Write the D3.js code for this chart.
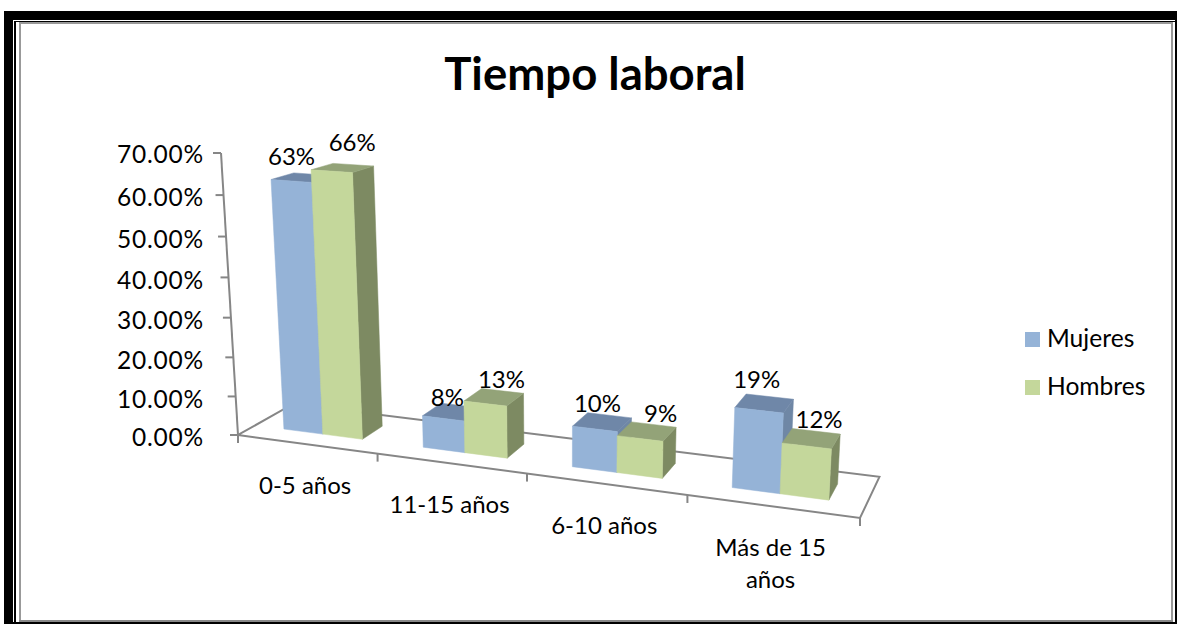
<!DOCTYPE html>
<html><head><meta charset="utf-8">
<script src="https://cdn.jsdelivr.net/npm/d3@7"></script>
<style>html,body{margin:0;padding:0;background:#fff}svg{display:block}text{font-family:Lato,"Noto Sans",sans-serif;fill:#000}</style>
</head><body><svg id="c" width="1177" height="624"></svg>
<script>
const title = "Tiempo laboral";
const categories = ["0-5 años","11-15 años","6-10 años","Más de 15 años"];
const seriesNames = ["Mujeres","Hombres"];
const mujeres = [0.63,0.08,0.10,0.19];
const hombres = [0.66,0.13,0.09,0.12];
const valueTicks = [0,0.1,0.2,0.3,0.4,0.5,0.6,0.7];
const seriesValues = [mujeres,hombres];

const front = {Mujeres:"#95B3D7",Hombres:"#C4D79B"};
const top_  = {Mujeres:"#6F87A8",Hombres:"#93A378"};
const side  = {Mujeres:"#6F87A5",Hombres:"#7D8A62"};
const axisColor = "#868686";

const svg = d3.select("#c");
// page frame
function box(x,y,w,h,f){svg.append("rect").attr("x",x).attr("y",y).attr("width",w).attr("height",h).attr("fill",f);}
box(4,11,1173,613,"#000");
box(13,20,1162,602,"#fff");
box(14,21,1161,601,"#000");
box(16,22,1159,600,"#fff");
box(19,22,1154,600,"#999");
box(21,24,1150,596,"#fff");
box(19,620,1154,2,"#888");

// projection of the 3-D chart box: unit cube -> screen
const P0=[238,435],P1=[860,518],P3=[293,404],PV=[221,153];
const g=-0.132, i_=0.065, h=-0.05;
const ax=P1[0]*(1+g)-P0[0], ay=P1[1]*(1+g)-P0[1];
const cx=P3[0]*(1+i_)-P0[0], cy=P3[1]*(1+i_)-P0[1];
const bx=PV[0]*(1+h)-P0[0], by=PV[1]*(1+h)-P0[1];
function project(u,v,d){
  const w=g*u+h*v+i_*d+1;
  return [(ax*u+bx*v+cx*d+P0[0])/w,(ay*u+by*v+cy*d+P0[1])/w];
}

const xBand=d3.scaleBand(categories,[0,1]);
const xSeries=d3.scaleBand(seriesNames,[0,xBand.bandwidth()]).paddingInner(0).paddingOuter(0.75);
const zBand=d3.scaleBand(["z"],[0,1]).paddingOuter(0.75);
const yScale=d3.scaleLinear([0,0.7],[0,1]);
const line=d3.line();

// floor
const floor=svg.append("g").attr("fill","none").attr("stroke",axisColor).attr("stroke-width",2);
floor.append("path").attr("d",line([project(0,0,0),project(1,0,0),project(1,0,1),project(0,0,1)])+"Z");
// category tick marks
xBand.domain().concat(["end"]).forEach((c,k)=>{
  const p=project(k*xBand.step(),0,0);
  floor.append("path").attr("d",line([p,[p[0],p[1]+8]]));
});
// value axis
floor.append("path").attr("d",line([project(0,yScale(0),0),project(0,yScale(0.7),0)]));
valueTicks.forEach(t=>{
  const p=project(0,yScale(t),0);
  floor.append("path").attr("d",line([p,[p[0]-8,p[1]]]));
  svg.append("text").attr("x",204).attr("y",p[1]+ (t===0.7?1:2.5)).attr("dy","0.36em")
     .attr("text-anchor","end").attr("font-size",24.5).attr("letter-spacing",0.8).text(d3.format(".2%")(t));
});

// bars
const z0=zBand("z"), z1=z0+zBand.bandwidth();
const labelNudge=[[[-2,-4],[19,-8]],[[6,6],[19,2]],[[8,2],[27,3]],[[7,-3],[23,2]]];
categories.forEach((c,ci)=>{
  seriesNames.forEach((s,si)=>{
    const val=seriesValues[si][ci];
    const u0=xBand(c)+xSeries(s), u1=u0+xSeries.bandwidth();
    const v=yScale(val);
    const g_=svg.append("g");
    const poly=(pts,f)=>g_.append("path").attr("d",line(pts)+"Z").attr("fill",f).attr("stroke",f).attr("stroke-width",0.5);
    poly([project(u1,0,z0),project(u1,0,z1),project(u1,v,z1),project(u1,v,z0)],side[s]);
    poly([project(u0,v,z0),project(u1,v,z0),project(u1,v,z1),project(u0,v,z1)],top_[s]);
    poly([project(u0,0,z0),project(u1,0,z0),project(u1,v,z0),project(u0,v,z0)],front[s]);
  });
});
categories.forEach((c,ci)=>{
  seriesNames.forEach((s,si)=>{
    const val=seriesValues[si][ci];
    const u=xBand(c)+xSeries(s)+xSeries.bandwidth()/2;
    const p=project(u,yScale(val),z1);
    const n=labelNudge[ci][si];
    svg.append("text").attr("x",p[0]+n[0]-20).attr("y",p[1]-14+n[1]).attr("text-anchor","middle").attr("dy","0.36em")
      .attr("font-size",24).text(d3.format(".0%")(val));
  });
});

// category labels
categories.forEach(c=>{
  const p=project(xBand(c)+xBand.bandwidth()/2,0,0);
  const t=svg.append("text").attr("text-anchor","middle").attr("font-size",24);
  const parts=c==="Más de 15 años"?["Más de 15","años"]:[c];
  parts.forEach((l,k)=>t.append("tspan").attr("x",p[0]-1.5).attr("y",p[1]+41+k*32).attr("dy","0.36em").text(l));
});

// title
svg.append("text").attr("x",595).attr("y",74).attr("text-anchor","middle").attr("dy","0.36em")
  .attr("font-size",45.5).attr("font-weight",700).text(title);

// legend
const legendY=d3.scalePoint(seriesNames,[338.5,386.5]);
seriesNames.forEach(s=>{
  box(1025,legendY(s)-6.5,15,15,front[s]);
  svg.append("text").attr("x",1047).attr("y",legendY(s)).attr("dy","0.36em").attr("font-size",24.6).text(s);
});
</script></body></html>
